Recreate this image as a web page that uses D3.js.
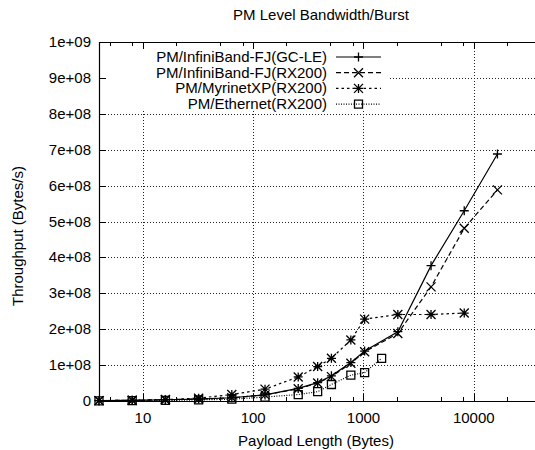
<!DOCTYPE html>
<html>
<head>
<meta charset="UTF-8">
<title>PM Level Bandwidth/Burst</title>
<style>
  body { margin: 0; background: #fff; }
  text { font-family: "Liberation Sans", Arial, sans-serif; font-size: 15px; fill: #000; }
</style>
</head>
<body>
<svg width="535" height="450"></svg>
<script src="https://d3js.org/d3.v7.min.js"></script>
<script>
// payload sizes (bytes)
var sizesIB = [4, 8, 16, 32, 64, 128, 256, 384, 512, 768, 1024, 2048, 4096, 8192, 16384];
var sizesMyri = [4, 8, 16, 32, 64, 128, 256, 384, 512, 768, 1024, 2048, 4096, 8192];
var sizesEth = [4, 8, 16, 32, 64, 128, 256, 384, 512, 768, 1024, 1460];

// throughput (bytes/s)
var ibGcle = [1.0e6, 2.0e6, 3.5e6, 5.5e6, 9e6, 1.7e7, 3.5e7, 5.1e7, 7.0e7, 1.07e8, 1.39e8, 1.93e8, 3.77e8, 5.30e8, 6.88e8];
var ibRx200 = [1.0e6, 2.0e6, 3.5e6, 5.5e6, 9e6, 1.7e7, 3.4e7, 5.0e7, 6.8e7, 1.05e8, 1.37e8, 1.88e8, 3.18e8, 4.81e8, 5.88e8];
var myriRx200 = [1.0e6, 2.0e6, 4.0e6, 8.0e6, 1.8e7, 3.3e7, 6.7e7, 9.6e7, 1.19e8, 1.70e8, 2.28e8, 2.41e8, 2.41e8, 2.45e8];
var ethRx200 = [0.5e6, 1.0e6, 1.5e6, 3.0e6, 5.0e6, 1.1e7, 1.8e7, 2.6e7, 4.6e7, 7.2e7, 7.9e7, 1.19e8];

var seriesNames = ["PM/InfiniBand-FJ(GC-LE)", "PM/InfiniBand-FJ(RX200)", "PM/MyrinetXP(RX200)", "PM/Ethernet(RX200)"];

var xMajor = [10, 100, 1000, 10000];
var xMajorLabels = ["10", "100", "1000", "10000"];
var xMinor = [5, 8, 20, 50, 80, 200, 500, 800, 2000, 5000, 8000, 20000];
var yTicks = [0, 1e8, 2e8, 3e8, 4e8, 5e8, 6e8, 7e8, 8e8, 9e8, 1e9];
var yTickLabels = ["0", "1e+08", "2e+08", "3e+08", "4e+08", "5e+08", "6e+08", "7e+08", "8e+08", "9e+08", "1e+09"];

var svg = d3.select("svg"),
    pLeft = 99, pTop = 42, pBottom = 401;

var x = d3.scaleLog().domain([4, 50000]).range([pLeft, pLeft + 110.3 * Math.log10(50000 / 4)]);
var y = d3.scaleLinear().domain([0, 1e9]).range([pBottom, pTop]);
var pRight = x.range()[1];

// grid
var grid = svg.append("g").attr("stroke", "#222").attr("stroke-width", 1).attr("stroke-dasharray", "1,2");
grid.selectAll(".gx").data(xMajor).enter().append("line")
    .attr("x1", d => Math.round(x(d)) + 0.5).attr("x2", d => Math.round(x(d)) + 0.5)
    .attr("y1", pTop).attr("y2", pBottom);
grid.selectAll(".gy").data(yTicks.slice(1, -1)).enter().append("line")
    .attr("x1", pLeft).attr("x2", pRight)
    .attr("y1", d => Math.round(y(d)) + 0.5).attr("y2", d => Math.round(y(d)) + 0.5);

// key box hides grid
svg.append("rect").attr("x", 101).attr("y", 45).attr("width", 288).attr("height", 66).attr("fill", "#fff");

// frame
svg.append("path")
    .attr("d", "M" + pRight + "," + (pTop + 0.5) + "H" + (pLeft + 0.5) + "V" + (pBottom + 0.5) + "H" + pRight)
    .attr("fill", "none").attr("stroke", "#000").attr("stroke-width", 1.2);

// ticks
var ticks = svg.append("g").attr("stroke", "#000").attr("stroke-width", 1);
xMajor.forEach(function (d) {
    var px = Math.round(x(d)) + 0.5;
    ticks.append("line").attr("x1", px).attr("x2", px).attr("y1", pBottom).attr("y2", pBottom - 7);
    ticks.append("line").attr("x1", px).attr("x2", px).attr("y1", pTop).attr("y2", pTop + 7);
});
xMinor.forEach(function (d) {
    var px = Math.round(x(d)) + 0.5;
    ticks.append("line").attr("x1", px).attr("x2", px).attr("y1", pBottom).attr("y2", pBottom - 4);
    ticks.append("line").attr("x1", px).attr("x2", px).attr("y1", pTop).attr("y2", pTop + 4);
});
yTicks.forEach(function (d) {
    var py = Math.round(y(d)) + 0.5;
    ticks.append("line").attr("x1", pLeft).attr("x2", pLeft + 7).attr("y1", py).attr("y2", py);
});

// tick labels
svg.selectAll(".xl").data(xMajor).enter().append("text")
    .attr("x", d => x(d)).attr("y", 423).attr("text-anchor", "middle")
    .text((d, i) => xMajorLabels[i]);
svg.selectAll(".yl").data(yTicks).enter().append("text")
    .attr("x", 91).attr("y", d => y(d) + 5).attr("text-anchor", "end")
    .text((d, i) => yTickLabels[i]);

// titles
svg.append("text").attr("x", 321).attr("y", 20).attr("text-anchor", "middle").text("PM Level Bandwidth/Burst");
svg.append("text").attr("x", 316).attr("y", 446).attr("text-anchor", "middle").text("Payload Length (Bytes)");
svg.append("text").attr("transform", "translate(23,236) rotate(-90)").attr("text-anchor", "middle").text("Throughput (Bytes/s)");

// point shapes
var s = 4.5;
var shapes = {
    plus: "M" + (-s) + ",0H" + s + "M0," + (-s) + "V" + s,
    cross: "M" + (-s) + "," + (-s) + "L" + s + "," + s + "M" + (-s) + "," + s + "L" + s + "," + (-s),
    star: "M" + (-s) + ",0H" + s + "M0," + (-s) + "V" + s + "M" + (-s) + "," + (-s) + "L" + s + "," + s + "M" + (-s) + "," + s + "L" + s + "," + (-s),
    box: "M-4,-4H4V4H-4Z"
};

var series = [
    { name: seriesNames[0], xs: sizesIB, ys: ibGcle, dash: null, shape: "plus" },
    { name: seriesNames[1], xs: sizesIB, ys: ibRx200, dash: "5,3", shape: "cross" },
    { name: seriesNames[2], xs: sizesMyri, ys: myriRx200, dash: "2.5,3", shape: "star" },
    { name: seriesNames[3], xs: sizesEth, ys: ethRx200, dash: "1,1.5", shape: "box" }
];

var line = d3.line().x(d => x(d[0])).y(d => y(d[1]));

series.forEach(function (sr, k) {
    var pts = sr.xs.map((v, i) => [v, sr.ys[i]]);
    svg.append("path").datum(pts)
        .attr("d", line)
        .attr("fill", "none").attr("stroke", "#000").attr("stroke-width", 1.2)
        .attr("stroke-dasharray", sr.dash);
    svg.append("g").selectAll("path").data(pts).enter().append("path")
        .attr("transform", d => "translate(" + x(d[0]) + "," + y(d[1]) + ")")
        .attr("d", shapes[sr.shape])
        .attr("fill", "none").attr("stroke", "#000").attr("stroke-width", 1.3);

    // key entry
    var ky = 57 + k * 15.7;
    svg.append("text").attr("x", 327).attr("y", ky + 5).attr("text-anchor", "end").text(sr.name);
    svg.append("line").attr("x1", 336).attr("x2", 381).attr("y1", ky).attr("y2", ky)
        .attr("stroke", "#000").attr("stroke-width", 1.2).attr("stroke-dasharray", sr.dash);
    svg.append("path").attr("transform", "translate(358.5," + ky + ")")
        .attr("d", shapes[sr.shape]).attr("fill", "none").attr("stroke", "#000").attr("stroke-width", 1.3);
});
</script>
</body>
</html>
